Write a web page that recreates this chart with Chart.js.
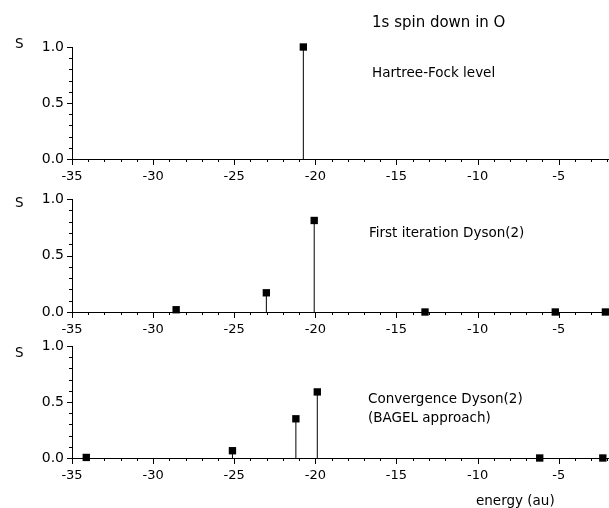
<!DOCTYPE html>
<html>
<head>
<meta charset="utf-8">
<script src="https://cdn.jsdelivr.net/npm/chart.js@4.4.1/dist/chart.umd.min.js"></script>
<style>
  html, body { margin: 0; padding: 0; background: #fff; }
  #wrap { position: relative; width: 609px; height: 508px; overflow: hidden; font-family: 'DejaVu Sans', sans-serif; color: #000; }
  #wrap canvas { position: absolute; left: 0; }
  .note { position: absolute; white-space: nowrap; font-size: 13.5px; line-height: 16px; transform: translateY(-50%); }
</style>
</head>
<body>
<div id="wrap">
  <canvas id="c1" width="615" height="200" style="top:0px"></canvas>
  <canvas id="c2" width="615" height="170" style="top:170px"></canvas>
  <canvas id="c3" width="615" height="188" style="top:320px"></canvas>

  <div class="note" style="left:372px; top:22px; font-size:15px;">1s spin down in O</div>
  <div class="note" style="left:372px; top:72px;">Hartree-Fock level</div>
  <div class="note" style="left:369px; top:232px;">First iteration Dyson(2)</div>
  <div class="note" style="left:368px; top:398px;">Convergence Dyson(2)</div>
  <div class="note" style="left:368px; top:417px;">(BAGEL approach)</div>
  <div class="note" style="left:476px; top:500px;">energy (au)</div>
  <div class="note" style="left:15px; top:43px;">S</div>
  <div class="note" style="left:15px; top:202px;">S</div>
  <div class="note" style="left:15px; top:352px;">S</div>
</div>
<script>
  // spectroscopic factors S vs. orbital energy (au)
  const hfEnergy = [-20.74];
  const hfS = [1.0];

  const firstEnergy = [-28.58, -23.02, -20.07, -13.24, -5.21, -2.12];
  const firstS = [0.02, 0.17, 0.81, 0.0, 0.0, 0.0];

  const convEnergy = [-34.12, -25.11, -21.2, -19.88, -6.17, -2.28];
  const convS = [0.005, 0.065, 0.35, 0.59, 0.0, 0.0];

  const xTicks = [-35, -30, -25, -20, -15, -10, -5];
  const yTicks = [0.0, 0.5, 1.0];
  const xMin = -35, xMax = -1.85;

  Chart.defaults.font.family = "'DejaVu Sans', sans-serif";
  Chart.defaults.font.size = 13;
  Chart.defaults.color = '#000';

  // minor + major tick marks pointing outward
  const tickMarks = {
    id: 'tickMarks',
    afterDraw(chart) {
      const { ctx, scales: { x, y } } = chart;
      ctx.save();
      ctx.strokeStyle = '#000';
      ctx.lineWidth = 1;
      ctx.beginPath();
      for (let v = xMin; v <= xMax; v++) {
        const px = Math.round(x.getPixelForValue(v)) + 0.5;
        const len = v % 5 === 0 ? 6 : 3;
        ctx.moveTo(px, y.bottom);
        ctx.lineTo(px, y.bottom + len);
      }
      for (let i = 0; i <= 10; i++) {
        const py = Math.round(y.getPixelForValue(i / 10)) + 0.5;
        const len = i % 5 === 0 ? 5 : 3;
        ctx.moveTo(x.left, py);
        ctx.lineTo(x.left - len, py);
      }
      ctx.stroke();
      ctx.restore();
    }
  };

  function stemPoints(xs, ys) {
    const pts = [];
    xs.forEach((e, i) => {
      pts.push({ x: e, y: 0 }, { x: e, y: ys[i] }, { x: e, y: null });
    });
    return pts;
  }

  function makePanel(id, xs, ys, padTop, xHeight) {
    const ctx = document.getElementById(id).getContext('2d');
    return new Chart(ctx, {
      type: 'scatter',
      data: {
        datasets: [
          {
            data: stemPoints(xs, ys),
            showLine: true,
            spanGaps: false,
            borderColor: '#000',
            borderWidth: 1,
            pointRadius: 0,
            clip: false
          },
          {
            data: xs.map((e, i) => ({ x: e, y: ys[i] })),
            showLine: false,
            pointStyle: 'rect',
            pointRadius: 5.2,
            backgroundColor: '#000',
            borderColor: '#000',
            borderWidth: 0,
            clip: false
          }
        ]
      },
      options: {
        responsive: false,
        animation: false,
        devicePixelRatio: 1,
        layout: { padding: { top: padTop, left: 0, right: 0, bottom: 0 } },
        plugins: { legend: { display: false }, tooltip: { enabled: false } },
        scales: {
          x: {
            type: 'linear',
            min: xMin,
            max: xMax,
            afterFit: (s) => { s.height = xHeight; s.paddingLeft = 0; s.paddingRight = 0; },
            afterBuildTicks: (s) => { s.ticks = xTicks.map(v => ({ value: v })); },
            grid: { display: false, drawTicks: true, tickLength: 6 },
            border: { display: true, color: '#000', width: 1 },
            ticks: { padding: 4, maxRotation: 0, autoSkip: false, callback: (v) => String(v) }
          },
          y: {
            type: 'linear',
            min: 0,
            max: 1,
            afterFit: (s) => { s.width = 72; },
            afterBuildTicks: (s) => { s.ticks = yTicks.map(v => ({ value: v })); },
            grid: { display: false, drawTicks: true, tickLength: 5 },
            border: { display: true, color: '#000', width: 1 },
            ticks: { padding: 3, font: { size: 14 }, callback: (v) => Number(v).toFixed(1) }
          }
        }
      },
      plugins: [tickMarks]
    });
  }

  makePanel('c1', hfEnergy, hfS, 47, 41);
  makePanel('c2', firstEnergy, firstS, 29, 28);
  makePanel('c3', convEnergy, convS, 26, 50);
</script>
</body>
</html>
